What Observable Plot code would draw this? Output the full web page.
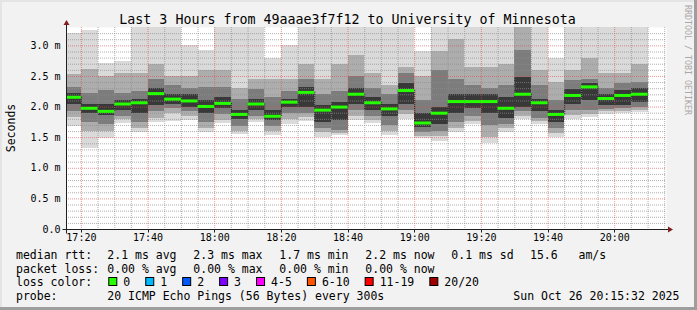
<!DOCTYPE html>
<html><head><meta charset="utf-8">
<script src="https://cdn.jsdelivr.net/npm/d3@7"></script>
<script src="https://cdn.jsdelivr.net/npm/@observablehq/plot@0.6"></script>
<style>
html,body{margin:0;padding:0;background:#f2f2f2;}
#chart{position:relative;width:697px;height:310px;background:#f2f2f2;overflow:hidden;}
#chart svg{position:absolute;left:0;top:0;}
</style></head><body><div id="chart"></div>
<script>
// ---- data (milliseconds) ----
const windowStart = "17:15:32";
const windowEnd = "20:15:32";
const barStarts = ["17:15","17:20","17:25","17:30","17:35","17:40","17:45","17:50","17:55","18:00",
  "18:05","18:10","18:15","18:20","18:25","18:30","18:35","18:40","18:45","18:50",
  "18:55","19:00","19:05","19:10","19:15","19:20","19:25","19:30","19:35","19:40",
  "19:45","19:50","19:55","20:00","20:05"];
const rttMax =    [3.21,3.25,2.71,2.75,3.30,3.30,3.30,3.00,2.93,3.30, 3.30,3.30,2.80,3.00,3.30,3.30,3.30,3.30,3.30,3.30, 3.30,2.90,3.30,3.30,3.30,3.30,3.30,3.30,3.30,2.80, 3.30,3.30,3.30,3.30,3.30];
const rttHigh2 =  [2.54,2.62,2.50,2.55,2.55,2.70,2.50,2.50,2.60,2.60, 2.30,2.45,2.45,2.45,2.70,2.45,2.70,2.85,2.55,2.35, 2.65,2.50,2.90,3.10,2.65,2.65,2.70,3.30,2.60,2.40, 2.60,2.80,2.55,2.55,2.70];
const rttHigh3 =  [2.32,2.22,2.27,2.22,2.25,2.45,2.35,2.30,2.32,2.32, 2.12,2.28,2.15,2.25,2.45,2.20,2.25,2.50,2.30,2.20, 2.55,2.10,2.60,2.45,2.35,2.30,2.35,2.93,2.35,2.10, 2.43,2.45,2.30,2.38,2.40];
const rttHigh4 =  [2.22,2.05,2.05,2.10,2.12,2.30,2.20,2.20,2.10,2.15, 1.95,2.12,1.95,2.12,2.32,2.02,2.08,2.30,2.15,2.05, 2.38,1.90,2.00,2.20,2.20,2.20,2.15,2.49,2.13,1.95, 2.28,2.38,2.20,2.27,2.30];
const rttMedian = [2.16,1.98,1.93,2.05,2.07,2.22,2.13,2.10,2.01,2.06, 1.88,2.05,1.85,2.08,2.24,1.95,2.00,2.21,2.07,1.97, 2.27,1.74,1.90,2.09,2.09,2.09,1.98,2.21,2.07,1.88, 2.19,2.33,2.14,2.19,2.21];
const rttLow4 =   [2.05,1.90,1.86,1.95,1.90,2.02,2.05,2.00,1.90,1.97, 1.80,1.95,1.78,2.00,2.00,1.75,1.78,2.05,1.95,1.85, 2.05,1.66,1.72,1.90,1.98,1.90,1.82,2.00,1.93,1.75, 2.05,2.10,2.03,2.03,2.08];
const rttLow3 =   [1.93,1.75,1.72,1.85,1.75,1.92,1.97,1.93,1.75,1.88, 1.68,1.85,1.68,1.90,1.90,1.65,1.62,1.95,1.85,1.70, 1.95,1.58,1.60,1.75,1.85,1.70,1.72,1.92,1.82,1.65, 1.95,1.95,1.96,1.97,2.00];
const rttLow2 =   [1.83,1.60,1.60,1.80,1.65,1.82,1.90,1.85,1.65,1.78, 1.60,1.80,1.60,1.80,1.83,1.58,1.57,1.85,1.78,1.60, 1.88,1.52,1.52,1.65,1.76,1.50,1.65,1.85,1.76,1.57, 1.87,1.88,1.92,1.93,1.95];
const rttMin =    [1.68,1.33,1.48,1.73,1.59,1.75,1.77,1.78,1.58,1.73, 1.56,1.74,1.54,1.72,1.76,1.51,1.54,1.78,1.73,1.54, 1.80,1.48,1.44,1.59,1.72,1.40,1.59,1.80,1.72,1.51, 1.80,1.83,1.88,1.90,1.91];

const yTickValues = [0, 0.5, 1.0, 1.5, 2.0, 2.5, 3.0];
const yTickLabels = ["0.0", "0.5 m", "1.0 m", "1.5 m", "2.0 m", "2.5 m", "3.0 m"];
const xTickLabels = ["17:20","17:40","18:00","18:20","18:40","19:00","19:20","19:40","20:00"];

const titleText = "Last 3 Hours from 49aaae3f7f12 to University of Minnesota";
const yAxisTitle = "Seconds";
const watermark = "RRDTOOL / TOBI OETIKER";
const medianRttStats = ["2.1 ms avg","2.3 ms max","1.7 ms min","2.2 ms now","0.1 ms sd","15.6   am/s"];
const packetLossStats = ["0.00 % avg","0.00 % max","0.00 % min","0.00 % now"];
const lossLabels = ["0","1","2","3","4-5","6-10","11-19","20/20"];
const lossColors = ["#26ff00","#00b8ff","#0059ff","#7e00ff","#ff00ff","#ff5500","#ff0000","#a10000"];
const probeText = "20 ICMP Echo Pings (56 Bytes) every 300s";
const dateText = "Sun Oct 26 20:15:32 2025";

// ---- build ----
const toDate = (s) => { const p = s.split(":").map(Number); return new Date(2025, 9, 26, p[0], p[1], p[2] || 0); };
const tStart = toDate(windowStart), tEnd = toDate(windowEnd);
const bars = barStarts.map((s, i) => ({start: toDate(s), end: new Date(+toDate(s) + 300000), i}));
const layers = [
  {lo: rttMin, hi: rttMax, fill: "#dadada"},
  {lo: rttLow2, hi: rttHigh2, fill: "#adadad"},
  {lo: rttLow3, hi: rttHigh3, fill: "#7c7c7c"},
  {lo: rttLow4, hi: rttHigh4, fill: "#383838"}
];
const connectors = bars.slice(1).map((b, k) => ({t: b.start, a: rttMedian[k], b: rttMedian[k + 1]}));
const minorTimes = d3.timeMinute.every(5).range(tStart, tEnd).filter(d => d.getMinutes() % 20 !== 0);
const majorTimes = d3.timeMinute.every(20).range(tStart, tEnd);
const minorY = d3.range(1, 33).filter(k => k % 5 !== 0).map(k => k / 10);
const majorY = yTickValues.filter(v => v > 0);
const xTickDates = xTickLabels.map(toDate);

const gridStroke = "rgba(143,143,143,0.7)";
const mgridStroke = "rgba(222,79,79,0.6)";

const plot = Plot.plot({
  width: 697, height: 250,
  marginLeft: 66, marginRight: 31, marginTop: 27, marginBottom: 21,
  style: {background: "transparent", fontFamily: "'DejaVu Sans Mono', monospace", fontSize: "10px", color: "#000", overflow: "visible"},
  x: {type: "time", domain: [tStart, tEnd]},
  y: {domain: [0, 3.3]},
  marks: [
    Plot.frame({fill: "#ffffff", stroke: null}),
    ...layers.map(L => Plot.rect(bars, {
      x1: "start", x2: "end",
      y1: d => L.lo[d.i], y2: d => L.hi[d.i],
      fill: L.fill, clip: true, shapeRendering: "crispEdges"
    })),
    Plot.ruleY(minorY, {stroke: gridStroke, strokeDasharray: "1,1"}),
    Plot.ruleX(minorTimes, {stroke: gridStroke, strokeDasharray: "1,1"}),
    Plot.ruleY(majorY, {stroke: mgridStroke, strokeDasharray: "1,1"}),
    Plot.ruleX(majorTimes, {stroke: mgridStroke, strokeDasharray: "1,1"}),
    Plot.ruleX(connectors, {x: "t", y1: "a", y2: "b", stroke: "#1f1f1f", strokeDasharray: "1,1"}),
    Plot.ruleY(bars, {y: d => rttMedian[d.i], x1: "start", x2: "end", stroke: "#26ff00", strokeWidth: 3, clip: true}),
    Plot.axisY({ticks: yTickValues, tickFormat: d => yTickLabels[yTickValues.indexOf(d)], tickSize: 0, tickPadding: 6, label: null, fill: "#000"}),
    Plot.axisX({ticks: xTickDates, tickFormat: d => xTickLabels[xTickDates.findIndex(t => +t === +d)], tickSize: 0, tickPadding: 4.5, label: null, fill: "#000"})
  ]
});

const chart = document.getElementById("chart");
chart.appendChild(plot);

const xs = plot.scale("x"), ys = plot.scale("y");
const X0 = Math.round(xs.apply(tStart)) + 0.5;
const XR = xs.apply(tEnd);
const Y0 = Math.round(ys.apply(0)) + 0.5;
const YT = ys.apply(3.3);

const ov = d3.select(chart).append("svg")
  .attr("width", 697).attr("height", 310)
  .attr("style", "position:absolute;left:0;top:0;pointer-events:none;font-family:'DejaVu Sans Mono',monospace;");

// frame shading
ov.append("rect").attr("x", 0).attr("y", 0).attr("width", 697).attr("height", 2).attr("fill", "#e4e4e4");
ov.append("rect").attr("x", 0).attr("y", 0).attr("width", 2).attr("height", 310).attr("fill", "#e4e4e4");
ov.append("rect").attr("x", 0).attr("y", 307).attr("width", 697).attr("height", 3).attr("fill", "#9e9e9e");
ov.append("rect").attr("x", 694).attr("y", 0).attr("width", 3).attr("height", 310).attr("fill", "#9e9e9e");

// axes lines + arrows
const axisCol = "#1f1f1f", arrowCol = "#801f1f";
ov.append("line").attr("x1", X0 - 4).attr("x2", XR + 2).attr("y1", Y0).attr("y2", Y0).attr("stroke", axisCol);
ov.append("line").attr("x1", X0).attr("x2", X0).attr("y1", Y0 + 4).attr("y2", YT - 2).attr("stroke", axisCol);
ov.append("path").attr("d", `M${X0 - 3},${YT - 2}L${X0 + 3},${YT - 2}L${X0},${YT - 7}Z`).attr("fill", arrowCol);
ov.append("path").attr("d", `M${XR + 2},${Y0 - 3}L${XR + 2},${Y0 + 3}L${XR + 7},${Y0}Z`).attr("fill", arrowCol);
majorTimes.forEach(t => {
  const x = Math.round(xs.apply(t)) + 0.5;
  ov.append("line").attr("x1", x).attr("x2", x).attr("y1", Y0).attr("y2", Y0 + 3).attr("stroke", axisCol);
});

// title, axis title, watermark
ov.append("text").attr("x", 347.5).attr("y", 24).attr("text-anchor", "middle").attr("font-size", 13.3).attr("fill", "#000").text(titleText);
ov.append("text").attr("transform", "translate(15,128) rotate(-90)").attr("text-anchor", "middle").attr("font-size", 11.5).attr("fill", "#000").text(yAxisTitle);
ov.append("text").attr("transform", "translate(685,5) rotate(90)").attr("text-anchor", "start").attr("font-size", 8.3).attr("fill", "#a8a8a8").text(watermark);

// legend
const lx = 16, colX = [107.3, 193.3, 279.3, 365.3, 451.3, 530];
const rowY = [259, 272.5, 286, 299.5];
const txt = (x, y, s) => ov.append("text").attr("x", x).attr("y", y).attr("font-size", 11.5).attr("fill", "#000").attr("xml:space", "preserve").style("white-space", "pre").text(s);
txt(lx, rowY[0], "median rtt:");
medianRttStats.forEach((s, i) => txt(colX[i], rowY[0], s));
txt(lx, rowY[1], "packet loss:");
packetLossStats.forEach((s, i) => txt(colX[i], rowY[1], s));
txt(lx, rowY[2], "loss color:");
let bx = 108.3;
lossLabels.forEach((s, i) => {
  ov.append("rect").attr("x", bx + 0.5).attr("y", 277.5).attr("width", 8).attr("height", 8)
    .attr("fill", lossColors[i]).attr("stroke", "#000").attr("stroke-width", 1);
  txt(bx + 15, rowY[2], s);
  bx += 15 + s.length * 6.94 + 15;
});
txt(lx, rowY[3], "probe:");
txt(107.3, rowY[3], probeText);
txt(513.3, rowY[3], dateText);
</script></body></html>
